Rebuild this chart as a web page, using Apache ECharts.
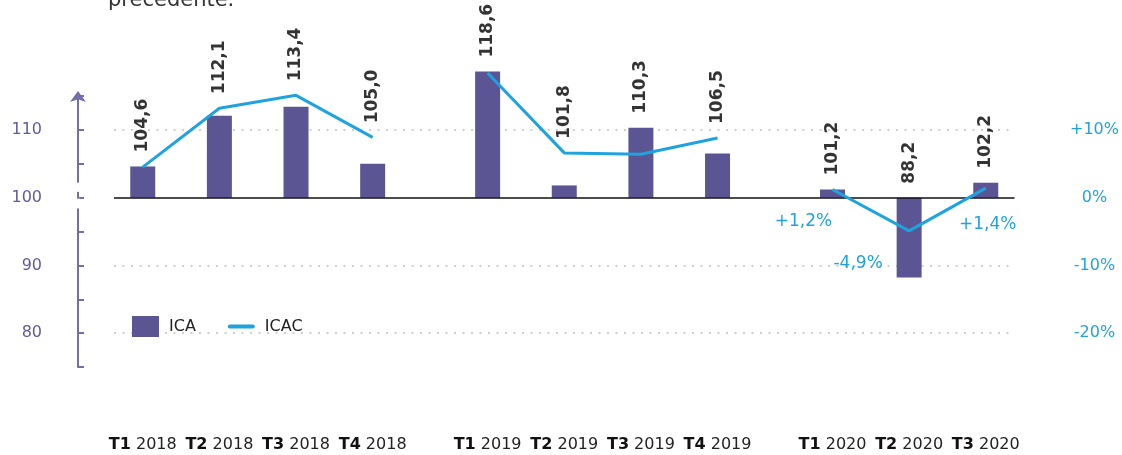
<!DOCTYPE html>
<html><head><meta charset="utf-8">
<script src="https://cdn.jsdelivr.net/npm/echarts@6/dist/echarts.min.js"></script>
<style>html,body{margin:0;padding:0;background:#fff}#c{width:1122px;height:455px}</style>
</head><body><div id="c"></div>
<script>
// ---- data ----
const quarters = ['T1','T2','T3','T4','T1','T2','T3','T4','T1','T2','T3'];
const years    = ['2018','2018','2018','2018','2019','2019','2019','2019','2020','2020','2020'];
const ica      = [104.6,112.1,113.4,105.0,118.6,101.8,110.3,106.5,101.2,88.2,102.2];
const icac     = [4.5,13.2,15.1,8.9,18.4,6.6,6.4,8.8,1.2,-4.9,1.4];
const labelledYear = '2020';
const leftTickValues = [80, 90, 100, 110];
const rightTickValues = [-20, -10, 0, 10];
const gridLevels = [80, 90, 110];
const baseLevel = 100;
const titleText = 'precedente.';

// ---- layout helpers ----
const FONT = 'DejaVu Sans';
const PURPLE = '#5c5594', AXIS_PURPLE = '#736dab', LABEL_PURPLE = '#605a9b', CYAN = '#1fa3df';
const LEAD = 1, STEP = 4, YEAR_STEP = 6, TRAIL = 1;
const slotOf = []; let s = LEAD;
quarters.forEach((q, i) => { if (i > 0) s += (years[i] !== years[i-1]) ? YEAR_STEP : STEP; slotOf.push(s); });
const nSlots = slotOf[slotOf.length-1] + 1 + TRAIL;
const cats = new Array(nSlots).fill('');
slotOf.forEach((sl, i) => cats[sl] = quarters[i] + ' ' + years[i]);
function toSlots(fn) { const out = new Array(nSlots).fill(null); slotOf.forEach((sl, i) => { const v = fn(i); if (v !== undefined) out[sl] = v; }); return out; }
const fmt = v => v.toFixed(1).replace('.', ',');
const rightToLeft = p => baseLevel + p; // right axis 0% sits on left 100, same scale
const uniqueYears = [...new Set(years)];
const pctLabelOffsets = [[-29, 0], [-51, 0], [2, 4]];

const lineSeries = uniqueYears.map(y => {
  let k = 0;
  return {
    type: 'line', name: 'ICAC', yAxisIndex: 1, connectNulls: true, clip: false,
    symbol: 'circle', symbolSize: 0.01, showSymbol: true,
    lineStyle: { color: CYAN, width: 3 }, itemStyle: { color: CYAN }, z: 4,
    data: toSlots(i => {
      if (years[i] !== y) return undefined;
      if (y !== labelledYear) return icac[i];
      const off = pctLabelOffsets[k++] || [0, 0];
      return { value: icac[i], label: { show: true, position: 'bottom', distance: 24, offset: off,
        formatter: p => (p.value > 0 ? '+' : '') + fmt(p.value) + '%', color: CYAN, fontSize: 17, fontFamily: FONT } };
    })
  };
});

const icaSlots = toSlots(i => ica[i]);
const chart = echarts.init(document.getElementById('c'));
const option = {
  animation: false,
  textStyle: { fontFamily: FONT },
  title: { text: titleText, left: 103, top: -15, textStyle: { fontFamily: FONT, fontSize: 21, fontWeight: 'normal', color: '#333' } },
  grid: { left: 114, right: 105, top: 96, bottom: 88 },
  legend: {
    left: 127, top: 311, itemWidth: 27, itemHeight: 21, itemGap: 32,
    data: [
      { name: 'ICA', icon: 'rect', itemStyle: { color: PURPLE } },
      { name: 'ICAC', icon: 'path://M2,0 L25,0 A2,2 0 0 1 25,4 L2,4 A2,2 0 0 1 2,0 Z', itemStyle: { color: CYAN } }
    ],
    textStyle: { fontFamily: FONT, fontSize: 16, color: '#222', padding: [0, 0, 0, 5] }
  },
  xAxis: {
    type: 'category', data: cats, boundaryGap: true,
    axisLine: { show: false }, axisTick: { show: false },
    axisLabel: { interval: 0, margin: 70, fontSize: 16, color: '#222', fontFamily: FONT,
      formatter: v => { if (!v) return ''; const [q, y] = v.split(' '); return '{b|' + q + '} ' + y; },
      rich: { b: { fontWeight: 'bold', fontSize: 16, color: '#111', fontFamily: FONT } } }
  },
  yAxis: [
    { type: 'value', min: 75, max: 115, interval: 5, startValue: 100, position: 'left', offset: 36,
      axisLine: { show: true, lineStyle: { color: AXIS_PURPLE, width: 2 }, symbol: ['none', 'arrow'], symbolSize: [12, 11], symbolOffset: [0, 5] },
      axisTick: { show: true, inside: true, length: 6, lineStyle: { color: AXIS_PURPLE, width: 2 } },
      axisLabel: { margin: 36, fontSize: 16, color: LABEL_PURPLE, fontFamily: FONT, formatter: v => leftTickValues.includes(v) ? String(v) : '' },
      splitLine: { show: false } },
    { type: 'value', min: -25, max: 15, interval: 5, position: 'right',
      axisLine: { show: false }, axisTick: { show: false }, splitLine: { show: false },
      axisLabel: { margin: 80, align: 'center', fontSize: 16, color: CYAN, fontFamily: FONT,
        formatter: v => rightTickValues.includes(v) ? ((v > 0 ? '+' : '') + v + '%') : '' } }
  ],
  series: [
    { type: 'bar', name: 'ICA', data: icaSlots, barWidth: 25, clip: false, itemStyle: { color: PURPLE }, z: 2,
      markLine: { silent: true, symbol: 'none', z: 1, label: { show: false },
        data: gridLevels.map(v => ({ yAxis: v, lineStyle: { type: [2, 6.5], color: '#cfcfcf', width: 2 } })) } },
    ...lineSeries,
    { type: 'scatter', name: 'lbl', symbolSize: 0, z: 5, clip: false,
      data: toSlots(i => Math.max(ica[i], baseLevel, rightToLeft(icac[i]))),
      label: { show: true, position: 'top', distance: 14, rotate: 90, align: 'left', verticalAlign: 'middle',
        fontSize: 17, fontWeight: 'bold', color: '#000', fontFamily: FONT,
        formatter: p => fmt(icaSlots[p.dataIndex]) },
      markLine: { silent: true, symbol: 'none', z: 3, label: { show: false },
        data: [{ yAxis: baseLevel, lineStyle: { type: 'solid', color: '#111', width: 1.5 } }] } }
  ]
};
chart.setOption(option);

// decorative break on the left axis around 100
const axisX = option.grid.left - option.yAxis[0].offset;
const py = v => chart.convertToPixel({ yAxisIndex: 0 }, v);
const breakBands = [[102.2, 100.85], [99.85, 98.4]];
chart.setOption({ graphic: breakBands.map(([a, b]) => ({
  type: 'rect', z: 100, silent: true,
  shape: { x: axisX - 3, y: py(a), width: 5, height: py(b) - py(a) },
  style: { fill: '#fff' } })) });
</script></body></html>
